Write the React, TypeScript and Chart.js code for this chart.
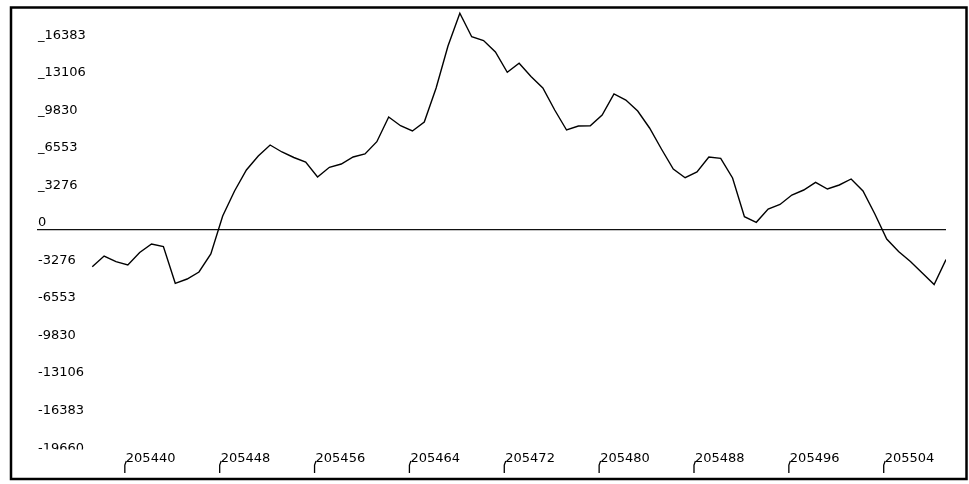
import { useEffect, useRef } from "react";
import { Chart, registerables } from "chart.js";

Chart.register(...registerables);

// first sample position on the x axis, one sample per unit
const X_START = 205437;

// series values (one per x unit, 205437 .. 205509)
const SERIES_VALUES = [
  -3204, -2270, -2768, -3056, -1964, -1222, -1441, -4654, -4278, -3667,
  -2095, 1222, 3405, 5239, 6461, 7421, 6810, 6330, 5937, 4627,
  5474, 5762, 6374, 6636, 7710, 9866, 9106, 8644, 9429, 12398,
  16065, 18920, 16877, 16545, 15541, 13769, 14555, 13402, 12398, 10477,
  8731, 9080, 9106, 10041, 11874, 11350, 10390, 8906, 7072, 5326,
  4566, 5064, 6374, 6260, 4540, 1161, 672, 1834, 2226, 3056,
  3492, 4165, 3580, 3929, 4453, 3405, 1397, -786, -1877, -2750,
  -3754, -4758, -2576,
];

const X_TICKS = [205440, 205448, 205456, 205464, 205472, 205480, 205488, 205496, 205504];

const Y_TICKS = [
  16383, 13106.4, 9829.8, 6553.2, 3276.6, 0,
  -3276.6, -6553.2, -9829.8, -13106.4, -16383, -19659.6,
];
const Y_LABELS = [
  "_16383", "_13106", "_9830", "_6553", "_3276", "0",
  "-3276", "-6553", "-9830", "-13106", "-16383", "-19660",
];

const X_MIN = 205432.34;
const X_MAX = 205509;
const Y_MIN = -19208;
const Y_MAX = 19208;

const FONT = { family: "'DejaVu Sans', sans-serif", size: 13 };

const framePlugin = {
  id: "frame",
  afterDraw(chart: any) {
    const ctx = chart.ctx as CanvasRenderingContext2D;
    const xs = chart.scales.x;
    ctx.save();
    // the lowest y label is cut by the x label band
    ctx.fillStyle = "#ffffff";
    ctx.fillRect(28, 449.5, 90, 12);
    // small tick marks at the x labels
    ctx.strokeStyle = "#000000";
    ctx.lineWidth = 1.3;
    X_TICKS.forEach((v) => {
      const px = xs.getPixelForValue(v) - 3;
      ctx.beginPath();
      ctx.moveTo(px + 1.5, 461);
      ctx.lineTo(px, 465);
      ctx.lineTo(px, 473);
      ctx.stroke();
    });
    // outer frame
    ctx.lineWidth = 2.5;
    ctx.strokeRect(11, 7.5, 955.5, 471.5);
    ctx.restore();
  },
};

export default function App() {
  const canvasRef = useRef<HTMLCanvasElement | null>(null);

  useEffect(() => {
    const canvas = canvasRef.current;
    if (!canvas) return;
    const points = SERIES_VALUES.map((v, i) => ({ x: X_START + i, y: v }));
    const chart = new Chart(canvas, {
      type: "line",
      data: {
        datasets: [
          {
            data: points,
            borderColor: "#000000",
            borderWidth: 1.4,
            pointRadius: 0,
            tension: 0,
            fill: false,
          },
        ],
      },
      plugins: [framePlugin],
      options: {
        animation: false,
        responsive: false,
        devicePixelRatio: 1,
        events: [],
        layout: { padding: { left: 37, right: 23, top: 10, bottom: 0 } },
        plugins: {
          legend: { display: false },
          tooltip: { enabled: false },
          title: { display: false },
        },
        scales: {
          x: {
            type: "linear",
            position: "bottom",
            min: X_MIN,
            max: X_MAX,
            afterBuildTicks: (scale: any) => {
              scale.ticks = X_TICKS.map((v) => ({ value: v }));
            },
            afterFit: (scale: any) => {
              scale.height = 34;
            },
            grid: { display: false, drawTicks: false },
            border: { display: false },
            ticks: {
              autoSkip: false,
              maxRotation: 0,
              minRotation: 0,
              align: "start",
              padding: 1,
              labelOffset: -2,
              color: "#000000",
              font: FONT,
              callback: (value: any) => String(value),
            },
          },
          y: {
            type: "linear",
            position: "left",
            min: Y_MIN,
            max: Y_MAX,
            afterBuildTicks: (scale: any) => {
              scale.ticks = Y_TICKS.map((v) => ({ value: v }));
            },
            afterFit: (scale: any) => {
              scale.width = 0;
            },
            grid: {
              drawTicks: false,
              color: (c: any) =>
                c.tick && c.tick.value === 0 ? "#111111" : "rgba(0,0,0,0)",
              lineWidth: 1.2,
            },
            border: { display: false },
            ticks: {
              autoSkip: false,
              mirror: true,
              crossAlign: "near",
              padding: 1,
              labelOffset: -7,
              color: "#000000",
              font: FONT,
              callback: (_value: any, index: number) => Y_LABELS[index],
            },
          },
        },
      },
    } as any);
    return () => chart.destroy();
  }, []);

  return (
    <div
      style={{
        position: "fixed",
        left: 0,
        top: 0,
        width: 969,
        height: 484,
        background: "#ffffff",
      }}
    >
      <canvas ref={canvasRef} width={969} height={484} style={{ display: "block" }} />
    </div>
  );
}
